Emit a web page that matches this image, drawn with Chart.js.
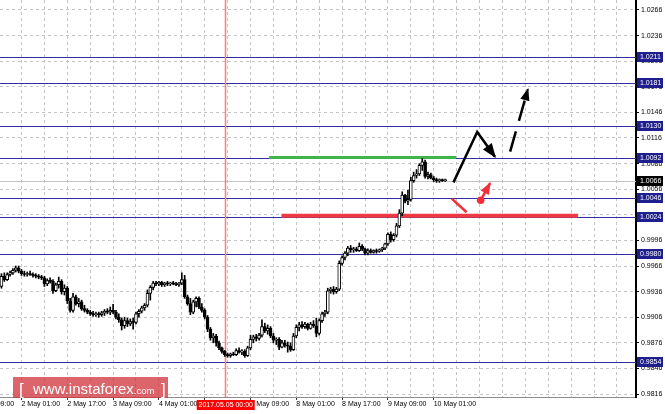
<!DOCTYPE html>
<html>
<head>
<meta charset="utf-8">
<title>H1 chart</title>
<script src="https://cdn.jsdelivr.net/npm/chart.js@4.4.1/dist/chart.umd.min.js"></script>
<style>
  html, body { margin: 0; padding: 0; background: #fff; }
  #chart { display: block; }
</style>
</head>
<body>
<canvas id="chart" width="665" height="414"></canvas>
<script>
// hourly bars; x value = trading-hour index, 0 = 1 May 09:00
const firstBar = 9;

const open = [
  0.9942, 0.9954, 0.9950, 0.9956, 0.9958, 0.9961, 0.9964, 0.9960, 0.9957, 0.9956,
  0.9957, 0.9956, 0.9955, 0.9954, 0.9953, 0.9952, 0.9945, 0.9949, 0.9948, 0.9937,
  0.9944, 0.9948, 0.9936, 0.9940, 0.9925, 0.9914, 0.9930, 0.9922, 0.9924, 0.9916,
  0.9914, 0.9912, 0.9910, 0.9909, 0.9910, 0.9909, 0.9911, 0.9913, 0.9912, 0.9914,
  0.9912, 0.9906, 0.9903, 0.9896, 0.9902, 0.9898, 0.9901, 0.9900, 0.9910, 0.9913,
  0.9917, 0.9920, 0.9934, 0.9941, 0.9946, 0.9945, 0.9947, 0.9944, 0.9946, 0.9945,
  0.9946, 0.9945, 0.9944, 0.9946, 0.9950, 0.9930, 0.9922, 0.9912, 0.9924, 0.9928,
  0.9918, 0.9914, 0.9906, 0.9892, 0.9882, 0.9884, 0.9876, 0.9870, 0.9866, 0.9862,
  0.9861, 0.9863, 0.9862, 0.9867, 0.9865, 0.9866, 0.9861, 0.9870, 0.9880, 0.9883,
  0.9881, 0.9885, 0.9895, 0.9890, 0.9893, 0.9884, 0.9879, 0.9880, 0.9871, 0.9876,
  0.9873, 0.9872, 0.9868, 0.9884, 0.9894, 0.9897, 0.9895, 0.9898, 0.9893, 0.9898,
  0.9896, 0.9887, 0.9902, 0.9910, 0.9912, 0.9937, 0.9939, 0.9936, 0.9939, 0.9969,
  0.9976, 0.9981, 0.9987, 0.9985, 0.9986, 0.9984, 0.9989, 0.9986, 0.9981, 0.9984,
  0.9982, 0.9984, 0.9983, 0.9985, 0.9987, 0.9992, 1.0003, 0.9997, 1.0002, 1.0013,
  1.0028, 1.0049, 1.0042, 1.0044, 1.0066, 1.0072, 1.0074, 1.0084, 1.0088, 1.0071,
  1.0073, 1.0069, 1.0067, 1.0066, 1.0067, 1.0066
];
const high = [
  0.9957, 0.9958, 0.9958, 0.9960, 0.9963, 0.9966, 0.9966, 0.9962, 0.9960, 0.9959,
  0.9960, 0.9958, 0.9957, 0.9956, 0.9955, 0.9954, 0.9951, 0.9952, 0.9950, 0.9946,
  0.9953, 0.9950, 0.9944, 0.9942, 0.9928, 0.9934, 0.9932, 0.9928, 0.9926, 0.9920,
  0.9916, 0.9914, 0.9913, 0.9912, 0.9912, 0.9913, 0.9915, 0.9916, 0.9918, 0.9921,
  0.9914, 0.9910, 0.9905, 0.9906, 0.9905, 0.9904, 0.9905, 0.9912, 0.9915, 0.9919,
  0.9922, 0.9938, 0.9943, 0.9948, 0.9948, 0.9948, 0.9948, 0.9947, 0.9948, 0.9947,
  0.9948, 0.9947, 0.9947, 0.9958, 0.9955, 0.9932, 0.9928, 0.9926, 0.9930, 0.9930,
  0.9922, 0.9916, 0.9908, 0.9894, 0.9887, 0.9886, 0.9878, 0.9871, 0.9867, 0.9864,
  0.9864, 0.9865, 0.9869, 0.9870, 0.9868, 0.9868, 0.9872, 0.9885, 0.9885, 0.9886,
  0.9887, 0.9903, 0.9899, 0.9897, 0.9895, 0.9887, 0.9882, 0.9882, 0.9879, 0.9879,
  0.9877, 0.9876, 0.9887, 0.9897, 0.9900, 0.9901, 0.9900, 0.9899, 0.9900, 0.9902,
  0.9905, 0.9904, 0.9912, 0.9914, 0.9940, 0.9941, 0.9942, 0.9941, 0.9972, 0.9978,
  0.9983, 0.9989, 0.9990, 0.9988, 0.9988, 0.9993, 0.9991, 0.9987, 0.9986, 0.9986,
  0.9985, 0.9986, 0.9986, 0.9988, 0.9993, 1.0005, 1.0006, 1.0004, 1.0016, 1.0032,
  1.0053, 1.0050, 1.0055, 1.0070, 1.0076, 1.0079, 1.0086, 1.0092, 1.0090, 1.0076,
  1.0075, 1.0071, 1.0069, 1.0068, 1.0068, 1.0068
];
const low = [
  0.9940, 0.9948, 0.9949, 0.9954, 0.9956, 0.9959, 0.9958, 0.9955, 0.9954, 0.9954,
  0.9955, 0.9953, 0.9952, 0.9951, 0.9950, 0.9942, 0.9943, 0.9946, 0.9934, 0.9936,
  0.9940, 0.9933, 0.9932, 0.9922, 0.9912, 0.9912, 0.9920, 0.9918, 0.9914, 0.9912,
  0.9910, 0.9908, 0.9907, 0.9907, 0.9906, 0.9907, 0.9908, 0.9910, 0.9909, 0.9910,
  0.9904, 0.9900, 0.9891, 0.9893, 0.9895, 0.9896, 0.9892, 0.9898, 0.9906, 0.9911,
  0.9914, 0.9918, 0.9926, 0.9938, 0.9943, 0.9943, 0.9942, 0.9942, 0.9943, 0.9943,
  0.9944, 0.9943, 0.9942, 0.9944, 0.9928, 0.9920, 0.9909, 0.9910, 0.9918, 0.9916,
  0.9912, 0.9904, 0.9889, 0.9879, 0.9876, 0.9872, 0.9868, 0.9864, 0.9860, 0.9859,
  0.9859, 0.9861, 0.9861, 0.9864, 0.9862, 0.9859, 0.9860, 0.9868, 0.9876, 0.9878,
  0.9879, 0.9883, 0.9888, 0.9886, 0.9882, 0.9876, 0.9874, 0.9868, 0.9870, 0.9871,
  0.9865, 0.9866, 0.9867, 0.9882, 0.9890, 0.9893, 0.9893, 0.9891, 0.9892, 0.9894,
  0.9883, 0.9885, 0.9900, 0.9907, 0.9910, 0.9934, 0.9933, 0.9934, 0.9937, 0.9967,
  0.9973, 0.9978, 0.9982, 0.9982, 0.9983, 0.9983, 0.9984, 0.9979, 0.9979, 0.9981,
  0.9981, 0.9981, 0.9982, 0.9983, 0.9985, 0.9990, 0.9994, 0.9995, 1.0000, 1.0011,
  1.0025, 1.0040, 1.0038, 1.0042, 1.0064, 1.0069, 1.0072, 1.0078, 1.0069, 1.0068,
  1.0068, 1.0065, 1.0064, 1.0064, 1.0065, 1.0065
];
const close = [
  0.9954, 0.9950, 0.9956, 0.9958, 0.9961, 0.9964, 0.9960, 0.9957, 0.9956, 0.9957,
  0.9956, 0.9955, 0.9954, 0.9953, 0.9952, 0.9945, 0.9949, 0.9948, 0.9937, 0.9944,
  0.9948, 0.9936, 0.9940, 0.9925, 0.9914, 0.9930, 0.9922, 0.9924, 0.9916, 0.9914,
  0.9912, 0.9910, 0.9909, 0.9910, 0.9909, 0.9911, 0.9913, 0.9912, 0.9914, 0.9912,
  0.9906, 0.9903, 0.9896, 0.9902, 0.9898, 0.9901, 0.9900, 0.9910, 0.9913, 0.9917,
  0.9920, 0.9934, 0.9941, 0.9946, 0.9945, 0.9947, 0.9944, 0.9946, 0.9945, 0.9946,
  0.9945, 0.9944, 0.9946, 0.9950, 0.9930, 0.9922, 0.9912, 0.9924, 0.9928, 0.9918,
  0.9914, 0.9906, 0.9892, 0.9882, 0.9884, 0.9876, 0.9870, 0.9866, 0.9862, 0.9861,
  0.9863, 0.9862, 0.9867, 0.9865, 0.9866, 0.9861, 0.9870, 0.9880, 0.9883, 0.9881,
  0.9885, 0.9895, 0.9890, 0.9893, 0.9884, 0.9879, 0.9880, 0.9871, 0.9876, 0.9873,
  0.9872, 0.9868, 0.9884, 0.9894, 0.9897, 0.9895, 0.9898, 0.9893, 0.9898, 0.9896,
  0.9887, 0.9902, 0.9910, 0.9912, 0.9937, 0.9939, 0.9936, 0.9939, 0.9969, 0.9976,
  0.9981, 0.9987, 0.9985, 0.9986, 0.9984, 0.9989, 0.9986, 0.9981, 0.9984, 0.9982,
  0.9984, 0.9983, 0.9985, 0.9987, 0.9992, 1.0003, 0.9997, 1.0002, 1.0013, 1.0028,
  1.0049, 1.0042, 1.0044, 1.0066, 1.0072, 1.0074, 1.0084, 1.0088, 1.0071, 1.0073,
  1.0069, 1.0067, 1.0066, 1.0067, 1.0066, 1.0066
];

// time axis labels (every 16 bars)
const xTickIdx = [0, 16, 32, 48, 64, 80, 96, 112, 128, 144, 160];
const xTickText = ['1 May 09:00', '2 May 01:00', '2 May 17:00', '3 May 09:00', '4 May 01:00',
  '4 May 17:00', '5 May 09:00', '8 May 01:00', '8 May 17:00', '9 May 09:00', '10 May 01:00'];
const yTicks = [1.0266, 1.0236, 1.0206, 1.0176, 1.0146, 1.0116, 1.0086, 1.0056, 1.0026,
  0.9996, 0.9966, 0.9936, 0.9906, 0.9876, 0.9846, 0.9816];

// horizontal levels and the last price
const levels = [1.0211, 1.0181, 1.0130, 1.0092, 1.0046, 1.0024, 0.9980, 0.9854];
const lastPrice = 1.0066;

// vertical marker
const markerIdx = 87;
const markerText = '2017.05.05 00:00';

// forecast drawings (bar index, price)
const greenZone = [{ x: 102.5, y: 1.0093 }, { x: 167.8, y: 1.0093 }];
const redZone = [{ x: 106.8, y: 1.0025 }, { x: 210.4, y: 1.0025 }];
const mainPath = [{ x: 166.9, y: 1.0064 }, { x: 175.2, y: 1.0123 }, { x: 181.4, y: 1.0094 }];
const nextPath = [{ x: 186.7, y: 1.0100 }, { x: 192.9, y: 1.0173 }];
const redStroke = [{ x: 166.3, y: 1.0045 }, { x: 171.5, y: 1.0029 }];
const redPoint = [{ x: 176.4, y: 1.0043 }, { x: 179.7, y: 1.0063 }];

const wicks = [], bodies = [], bodyFill = [];
for (let k = 0; k < close.length; k++) {
  const i = firstBar + k;
  wicks.push({ x: i, y: [low[k], high[k]] });
  bodies.push({ x: i, y: [open[k], close[k]] });
  bodyFill.push(close[k] >= open[k] ? '#ffffff' : '#000000');
}

const NAVY = '#1e1e8e';
const font = 'Liberation Sans';

const drawings = {
  id: 'drawings',
  beforeDatasetsDraw(chart) {
    const { ctx, chartArea: a, scales: { x, y } } = chart;
    ctx.save();
    ctx.lineWidth = 1;
    ctx.strokeStyle = '#c4c4c4';
    let py = Math.round(y.getPixelForValue(lastPrice)) + 0.5;
    ctx.beginPath(); ctx.moveTo(a.left, py); ctx.lineTo(a.right, py); ctx.stroke();
    ctx.strokeStyle = '#2f2fa2';
    levels.forEach(v => {
      const ly = Math.round(y.getPixelForValue(v)) + 0.5;
      ctx.beginPath(); ctx.moveTo(a.left, ly); ctx.lineTo(a.right, ly); ctx.stroke();
    });
    const mx = Math.round(x.getPixelForValue(markerIdx)) + 0.5;
    ctx.strokeStyle = '#ff7a7a';
    ctx.lineWidth = 1.5;
    ctx.beginPath(); ctx.moveTo(mx, a.top); ctx.lineTo(mx, a.bottom); ctx.stroke();
    ctx.restore();
  },
  afterDatasetsDraw(chart) {
    const ctx = chart.ctx;
    ctx.save();
    chart.data.datasets.forEach((ds, i) => {
      if (!ds.arrow) return;
      const pts = chart.getDatasetMeta(i).data;
      const p1 = pts[pts.length - 2], p2 = pts[pts.length - 1];
      const ang = Math.atan2(p2.y - p1.y, p2.x - p1.x);
      const L = ds.arrow, W = L * 0.42;
      const c = Math.cos(ang), s = Math.sin(ang);
      ctx.fillStyle = ds.borderColor;
      ctx.beginPath();
      ctx.moveTo(p2.x + c * 1.5, p2.y + s * 1.5);
      ctx.lineTo(p2.x - L * c + W * s, p2.y - L * s - W * c);
      ctx.lineTo(p2.x - L * c - W * s, p2.y - L * s + W * c);
      ctx.closePath();
      ctx.fill();
    });
    ctx.restore();
  },
  afterDraw(chart) {
    const { ctx, chartArea: a, scales: { x, y } } = chart;
    ctx.save();
    ctx.font = '7px "' + font + '"';
    ctx.textBaseline = 'middle';
    const tag = (v, bg) => {
      const ty = Math.round(y.getPixelForValue(v));
      ctx.fillStyle = bg;
      ctx.fillRect(a.right + 1, ty - 5, 26, 10);
      ctx.fillStyle = '#fff';
      ctx.fillText(v.toFixed(4), a.right + 4, ty + 0.5);
    };
    levels.forEach(v => tag(v, NAVY));
    tag(lastPrice, '#000');

    // time marker label on the axis
    const mx = x.getPixelForValue(markerIdx);
    ctx.fillStyle = '#ff0000';
    ctx.fillRect(mx - 28, a.bottom + 3, 58, 10);
    ctx.fillStyle = '#fff';
    ctx.textAlign = 'center';
    ctx.fillText(markerText, mx + 1, a.bottom + 8.5);

    // watermark
    ctx.fillStyle = 'rgba(208, 48, 58, 0.75)';
    ctx.fillRect(13, 377, 155, 21);
    ctx.fillStyle = '#fff';
    ctx.textAlign = 'left';
    ctx.textBaseline = 'alphabetic';
    ctx.font = '17px "' + font + '"';
    ctx.fillText('[', 19, 395);
    ctx.fillText(']', 161, 395);
    ctx.font = '15px "' + font + '"';
    ctx.fillText('www.instaforex', 33, 394);
    const w = ctx.measureText('www.instaforex').width;
    ctx.font = '9.5px "' + font + '"';
    ctx.fillText('.com', 33 + w, 394);
    ctx.restore();
  }
};

new Chart(document.getElementById('chart'), {
  type: 'bar',
  data: {
    datasets: [
      { type: 'line', data: greenZone, borderColor: '#3fb34c', borderWidth: 3, pointRadius: 0, order: 3 },
      { type: 'line', data: redZone, borderColor: '#ef3a44', borderWidth: 4, pointRadius: 0, order: 3 },
      { data: wicks, backgroundColor: '#000', barThickness: 1, grouped: false, order: 1 },
      { data: bodies, backgroundColor: bodyFill, borderColor: '#000', borderWidth: 1,
        borderSkipped: false, barThickness: 3, minBarLength: 1, grouped: false, order: 0 },
      { type: 'line', data: mainPath, borderColor: '#000', borderWidth: 2.5, pointRadius: 0,
        arrow: 13, order: -1 },
      { type: 'line', data: nextPath, borderColor: '#000', borderWidth: 2.5, pointRadius: 0,
        borderDash: [21, 11], arrow: 11, order: -1 },
      { type: 'line', data: redStroke, borderColor: '#ef2f3a', borderWidth: 2.5, pointRadius: 0, order: -1 },
      { type: 'line', data: redPoint, borderColor: '#ef2f3a', borderWidth: 2.5,
        pointRadius: [3.8, 0], pointBackgroundColor: '#ef2f3a', pointBorderWidth: 0,
        arrow: 11, order: -1 }
    ]
  },
  options: {
    responsive: false,
    animation: false,
    events: [],
    layout: { padding: 0, autoPadding: false },
    plugins: { legend: { display: false }, tooltip: { enabled: false } },
    scales: {
      x: {
        type: 'linear',
        min: 8.49,
        max: 230.67,
        offset: false,
        grid: {
          offset: false,
          color: '#c4c4c4',
          tickLength: 3,
          tickColor: c => (c.tick && xTickIdx.includes(c.tick.value) ? '#333' : 'rgba(0,0,0,0)')
        },
        border: { color: '#8c8c8c', dash: [3, 3] },
        ticks: {
          autoSkip: false,
          maxRotation: 0,
          align: 'start',
          padding: 0,
          color: '#000',
          font: { family: font, size: 7 },
          callback: v => {
            const k = xTickIdx.indexOf(v);
            return k >= 0 ? xTickText[k] : '';
          }
        },
        afterBuildTicks: s => {
          const t = [];
          for (let v = 0; v <= 224; v += 8) t.push({ value: v });
          s.ticks = t;
        },
        afterFit: s => { s.height = 17; s.paddingLeft = 0; s.paddingRight = 0; }
      },
      y: {
        position: 'right',
        min: 0.98125,
        max: 1.02777,
        beginAtZero: false,
        grid: { color: '#c4c4c4', tickLength: 3, tickColor: '#000' },
        border: { color: '#000', width: 2, dash: [3, 3] },
        ticks: {
          padding: 2,
          color: '#000',
          font: { family: font, size: 7 },
          callback: v => v.toFixed(4)
        },
        afterBuildTicks: s => { s.ticks = yTicks.map(v => ({ value: v })); },
        afterFit: s => { s.width = 29; s.paddingTop = 0; s.paddingBottom = 0; }
      }
    }
  },
  plugins: [drawings]
});
</script>
</body>
</html>
